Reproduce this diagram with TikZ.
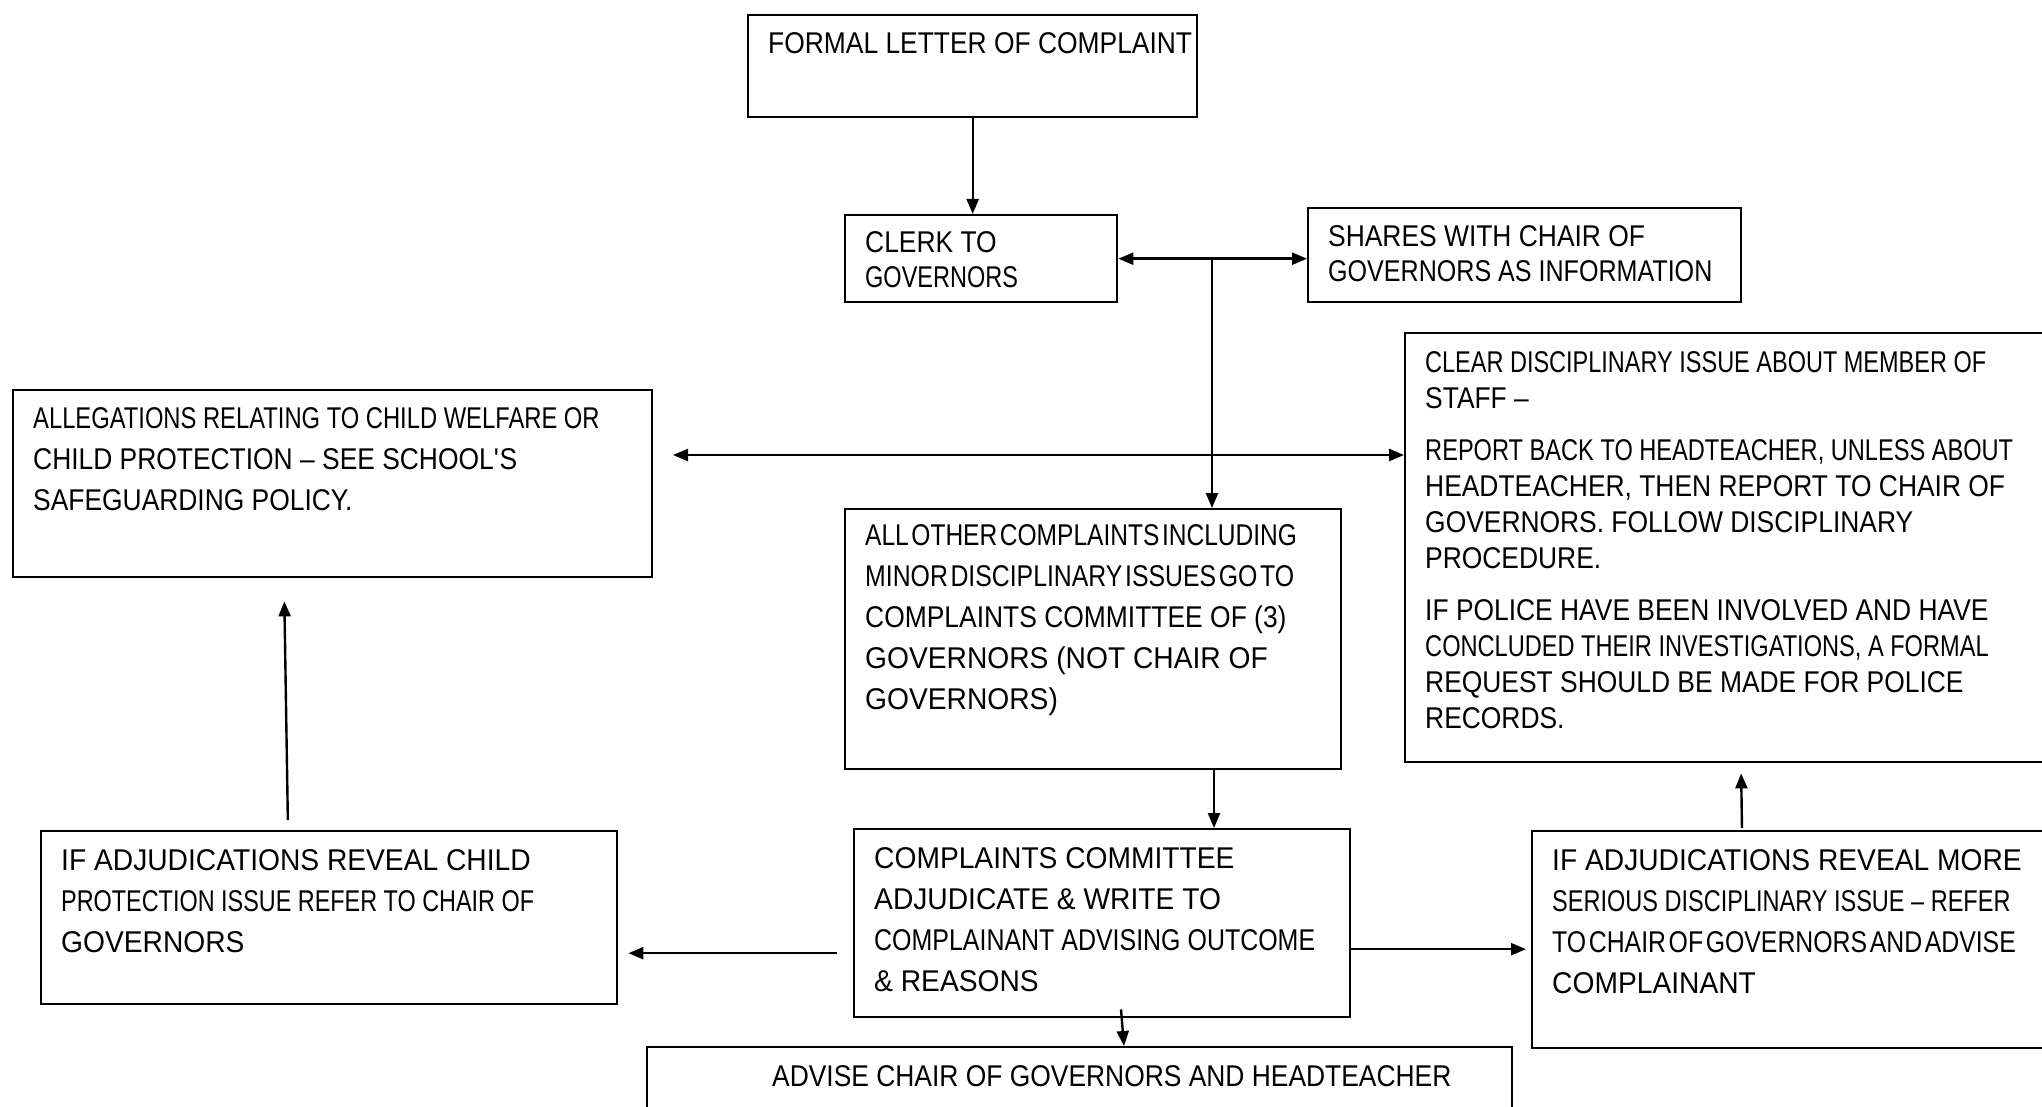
\documentclass[tikz,border=0pt]{standalone}
\usepackage{fontspec}
\setmainfont{Liberation Sans}[FakeStretch=0.88]
\newfontfamily\widefont{Liberation Sans}[FakeStretch=0.94]
\usetikzlibrary{arrows.meta}
\newcommand{\tightwords}[1]{{\spaceskip=3pt\relax #1}}
\newcommand{\squeeze}[2]{\scalebox{#1}[1]{#2}}
\begin{document}
\begin{tikzpicture}[x=1pt,y=-1pt,
    box/.style={draw, line width=2.4pt, inner sep=0pt, anchor=north west},
    txt/.style={inner sep=0pt, anchor=north west, align=left,
      font=\fontsize{30}{41}\selectfont},
    widetxt/.style={txt, font=\widefont\fontsize{30}{41}\selectfont},
    arr/.style={line width=2.4pt, -{Triangle[length=15pt,width=12pt]}},
    darr/.style={line width=2.4pt, {Triangle[length=15pt,width=12pt]}-{Triangle[length=15pt,width=12pt]}}]
  \useasboundingbox (0,0) rectangle (2042,1107);
  % boxes
  \node[box, minimum width=449pt, minimum height=102pt] (formal) at (747,14) {};
  \node[box, minimum width=272pt, minimum height=87pt] (clerk) at (844,214) {};
  \node[box, minimum width=433pt, minimum height=94pt] (shares) at (1307,207) {};
  \node[box, minimum width=700pt, minimum height=429pt] (clear) at (1404,332) {};
  \node[box, minimum width=639pt, minimum height=187pt] (alleg) at (12,389) {};
  \node[box, minimum width=496pt, minimum height=260pt] (allother) at (844,508) {};
  \node[box, minimum width=576pt, minimum height=173pt] (ifchild) at (40,830) {};
  \node[box, minimum width=496pt, minimum height=188pt] (committee) at (853,828) {};
  \node[box, minimum width=600pt, minimum height=217pt] (ifmore) at (1531,830) {};
  \node[box, minimum width=865pt, minimum height=120pt] (advise) at (646,1046) {};
  % texts
  \node[txt] (formal-t) at (768,32) {FORMAL LETTER OF COMPLAINT};
  \node[txt, font=\fontsize{30}{35}\selectfont] (clerk-t) at (865,231) {CLERK TO\\\squeeze{0.89}{GOVERNORS}};
  \node[txt, font=\fontsize{30}{35}\selectfont] (shares-t) at (1328,225) {SHARES WITH CHAIR OF\\\squeeze{0.95}{GOVERNORS AS INFORMATION}};
  \node[txt, font=\fontsize{30}{36}\selectfont] (clear-t) at (1425,351) {\squeeze{0.89}{CLEAR DISCIPLINARY ISSUE ABOUT MEMBER OF}\\STAFF –\\[16pt]
    \squeeze{0.894}{REPORT BACK TO HEADTEACHER, UNLESS ABOUT}\\HEADTEACHER, THEN REPORT TO CHAIR OF\\GOVERNORS. FOLLOW DISCIPLINARY\\PROCEDURE.\\[16pt]
    IF POLICE HAVE BEEN INVOLVED AND HAVE\\\squeeze{0.894}{CONCLUDED THEIR INVESTIGATIONS, A FORMAL}\\REQUEST SHOULD BE MADE FOR POLICE\\RECORDS.};
  \node[txt] (alleg-t) at (33,407) {\squeeze{0.9}{ALLEGATIONS RELATING TO CHILD WELFARE OR}\\CHILD PROTECTION – SEE SCHOOL\textquotesingle S\\SAFEGUARDING POLICY.};
  \node[widetxt] (allother-t) at (865,524) {\squeeze{0.87}{\tightwords{ALL OTHER COMPLAINTS INCLUDING}}\\\squeeze{0.88}{\tightwords{MINOR DISCIPLINARY ISSUES GO TO}}\\\squeeze{0.937}{COMPLAINTS COMMITTEE OF (3)}\\GOVERNORS (NOT CHAIR OF\\GOVERNORS)};
  \node[widetxt] (ifchild-t) at (61,849) {IF ADJUDICATIONS REVEAL CHILD\\\squeeze{0.83}{PROTECTION ISSUE REFER TO CHAIR OF}\\GOVERNORS};
  \node[widetxt] (committee-t) at (874,847) {COMPLAINTS COMMITTEE\\ADJUDICATE \& WRITE TO\\\squeeze{0.885}{COMPLAINANT ADVISING OUTCOME}\\\& REASONS};
  \node[widetxt] (ifmore-t) at (1552,849) {IF ADJUDICATIONS REVEAL MORE\\\squeeze{0.834}{SERIOUS DISCIPLINARY ISSUE – REFER}\\\squeeze{0.88}{\tightwords{TO CHAIR OF GOVERNORS AND ADVISE}}\\COMPLAINANT};
  \node[txt] (advise-t) at (772,1065) {ADVISE CHAIR OF GOVERNORS AND HEADTEACHER};
  % connectors
  \coordinate (split) at (1212,258);
  \coordinate (left-end) at (673,455);
  \draw[arr] (formal.south) -- (formal.south |- clerk.north);
  \draw[darr] (clerk.east) -- (clerk.east -| shares.west);
  \draw[arr] (split) -- (split |- allother.north);
  \draw[darr] (left-end) -- (left-end -| clear.west);
  \draw[arr] (allother.south -| 1214,0) -- (committee.north -| 1214,0);
  \draw[arr, shorten <=16pt, shorten >=10pt] ([yshift=-30pt]committee.west) -- ([yshift=-30pt]committee.west -| ifchild.east);
  \draw[arr, shorten >=5pt] ([yshift=-26pt]committee.east) -- ([yshift=-26pt]committee.east -| ifmore.west);
  \draw[arr, shorten <=10pt, shorten >=23pt] (ifchild.north -| 288,0) -- (alleg.south -| 284,0);
  \draw[arr, shorten <=2pt, shorten >=10pt] (ifmore.north -| 1742,0) -- (clear.south -| 1741,0);
  \draw[arr] ([yshift=9pt]committee.south -| 1121,0) -- (advise.north -| 1124,0);
\end{tikzpicture}
\end{document}
